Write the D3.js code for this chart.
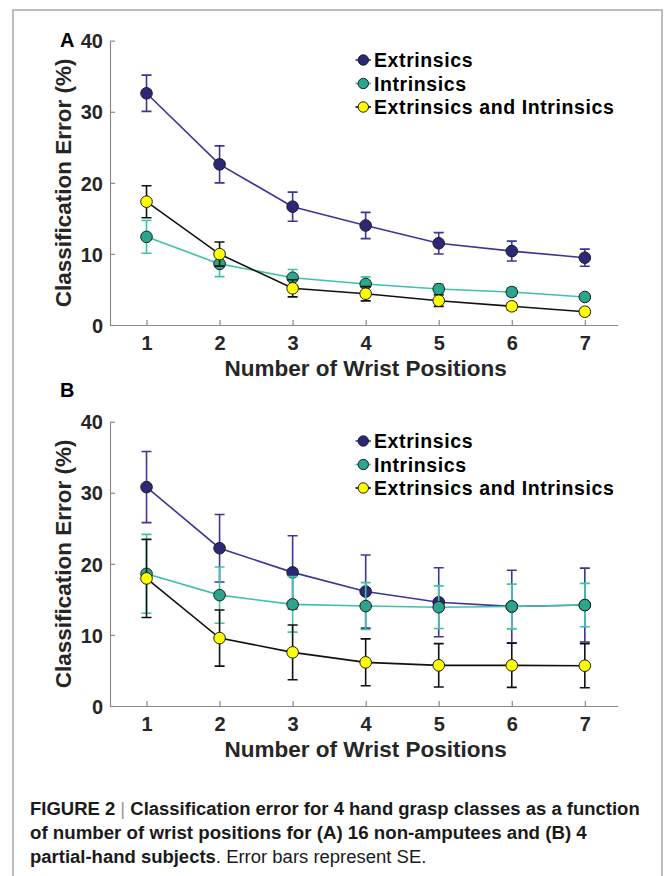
<!DOCTYPE html>
<html>
<head>
<meta charset="utf-8">
<script src="https://cdn.jsdelivr.net/npm/d3@7/dist/d3.min.js"></script>
<style>
  html, body { margin: 0; padding: 0; background: #fff; }
  svg { display: block; }
</style>
</head>
<body>
<svg id="fig" width="665" height="876"></svg>
<script>
// Number of wrist positions used for training
const positions = [1, 2, 3, 4, 5, 6, 7];
const yTicks = [0, 10, 20, 30, 40];
const seriesNames = ["Extrinsics", "Intrinsics", "Extrinsics and Intrinsics"];

// Panel A: 16 non-amputees (mean classification error %, SE)
const aExtrinsics   = [32.6, 22.6, 16.65, 14.0, 11.5, 10.4, 9.47];
const aExtrinsicsSE = [2.55, 2.6, 2.05, 1.85, 1.5, 1.4, 1.2];
const aIntrinsics   = [12.4, 8.6, 6.65, 5.77, 5.06, 4.64, 3.94];
const aIntrinsicsSE = [2.3, 1.8, 1.15, 1.0, 0.7, 0.6, 0.4];
const aCombined     = [17.35, 9.98, 5.16, 4.4, 3.42, 2.63, 1.87];
const aCombinedSE   = [2.25, 1.7, 1.2, 1.0, 0.8, 0.5, 0.45];

// Panel B: 4 partial-hand subjects
const bExtrinsics   = [30.8, 22.2, 18.8, 16.1, 14.6, 14.0, 14.2];
const bExtrinsicsSE = [5.0, 4.75, 5.15, 5.15, 4.85, 5.1, 5.2];
const bIntrinsics   = [18.6, 15.6, 14.3, 14.06, 13.9, 14.0, 14.2];
const bIntrinsicsSE = [5.55, 3.95, 3.9, 3.3, 3.0, 3.15, 3.05];
const bCombined     = [17.95, 9.56, 7.55, 6.14, 5.72, 5.72, 5.67];
const bCombinedSE   = [5.5, 3.95, 3.85, 3.3, 3.05, 3.1, 3.1];

const styles = [
  { line: "#3b3698", fill: "#2c2877" },
  { line: "#3fc2a7", fill: "#2aa68e" },
  { line: "#111111", fill: "#ffff00" }
];

const svg = d3.select("#fig");
const FONT = "'Liberation Sans', Arial, Helvetica, sans-serif";

// outer frame
svg.append("rect")
  .attr("x", 13).attr("y", 10)
  .attr("width", 649).attr("height", 900)
  .attr("fill", "none").attr("stroke", "#a8a8a8").attr("stroke-width", 1.5);

const x = d3.scaleLinear().domain([0.5, 7.45]).range([110, 617.7]);

function drawPanel(cfg) {
  const y = d3.scaleLinear().domain([0, 40]).range([cfg.bottom, cfg.bottom - 284.3]);
  const g = svg.append("g");

  // axes
  const xAxis = d3.axisBottom(x).tickValues(positions).tickFormat(d3.format("d"))
    .tickSizeInner(-5).tickSizeOuter(0).tickPadding(11);
  const yAxis = d3.axisLeft(y).tickValues(yTicks).tickFormat(d3.format("d"))
    .tickSizeInner(-5).tickSizeOuter(0).tickPadding(7);

  const gx = g.append("g").attr("transform", `translate(0,${cfg.bottom})`).call(xAxis);
  const gy = g.append("g").attr("transform", `translate(110,0)`).call(yAxis);
  [gx, gy].forEach(a => {
    a.select(".domain").attr("stroke", "#8a8a8a").attr("stroke-width", 1.2);
    a.selectAll(".tick line").attr("stroke", "#8a8a8a").attr("stroke-width", 1.2);
    a.selectAll(".tick text")
      .attr("fill", "#262626")
      .style("font-family", FONT).style("font-weight", "bold").style("font-size", "20px");
  });
  gy.selectAll(".tick text").attr("dy", "0.36em");

  // axis titles
  g.append("text")
    .attr("x", x(4)).attr("y", cfg.bottom + 51)
    .attr("text-anchor", "middle")
    .attr("fill", "#262626")
    .style("font-family", FONT).style("font-weight", "bold").style("font-size", "22.5px")
    .text("Number of Wrist Positions");

  g.append("text")
    .attr("transform", `translate(71,${(y(0) + y(40)) / 2}) rotate(-90)`)
    .attr("text-anchor", "middle")
    .attr("fill", "#262626")
    .style("font-family", FONT).style("font-weight", "bold").style("font-size", "22.5px")
    .text("Classification Error (%)");

  // panel letter
  g.append("text")
    .attr("x", 60).attr("y", cfg.letterY)
    .attr("fill", "#000")
    .style("font-family", FONT).style("font-weight", "bold").style("font-size", "20px")
    .text(cfg.letter);

  const line = d3.line().x((d, i) => x(positions[i])).y(d => y(d));

  cfg.series.forEach((s, k) => {
    const st = styles[k];
    const sg = g.append("g");
    // error bars
    positions.forEach((p, i) => {
      const lo = y(s.mean[i] - s.se[i]), hi = y(s.mean[i] + s.se[i]), cx = x(p);
      sg.append("path")
        .attr("d", `M${cx},${lo}V${hi}M${cx - 5},${lo}H${cx + 5}M${cx - 5},${hi}H${cx + 5}`)
        .attr("fill", "none").attr("stroke", st.line).attr("stroke-width", 1.6);
    });
    sg.append("path")
      .attr("d", line(s.mean))
      .attr("fill", "none").attr("stroke", st.line).attr("stroke-width", 1.6);
    sg.selectAll("circle").data(s.mean).join("circle")
      .attr("cx", (d, i) => x(positions[i])).attr("cy", d => y(d))
      .attr("r", 5.8)
      .attr("fill", st.fill).attr("stroke", "#1c1c1c").attr("stroke-width", 1);
  });

  // legend
  const legendTop = cfg.bottom - 265;
  seriesNames.forEach((name, k) => {
    const st = styles[k];
    const ly = legendTop + k * 23.5;
    g.append("line")
      .attr("x1", 355.5).attr("x2", 371).attr("y1", ly).attr("y2", ly)
      .attr("stroke", st.line).attr("stroke-width", 1.6);
    g.append("circle")
      .attr("cx", 363.3).attr("cy", ly).attr("r", 5.2)
      .attr("fill", st.fill).attr("stroke", "#1c1c1c").attr("stroke-width", 1);
    g.append("text")
      .attr("x", 374).attr("y", ly + 7)
      .attr("fill", "#000")
      .style("font-family", FONT).style("font-weight", "bold").style("font-size", "19.5px")
      .style("letter-spacing", "0.6px")
      .text(name);
  });
}

drawPanel({
  bottom: 325, letter: "A", letterY: 47,
  series: [
    { mean: aExtrinsics, se: aExtrinsicsSE },
    { mean: aIntrinsics, se: aIntrinsicsSE },
    { mean: aCombined, se: aCombinedSE }
  ]
});

drawPanel({
  bottom: 706, letter: "B", letterY: 397,
  series: [
    { mean: bExtrinsics, se: bExtrinsicsSE },
    { mean: bIntrinsics, se: bIntrinsicsSE },
    { mean: bCombined, se: bCombinedSE }
  ]
});

// figure caption, set in a condensed face (horizontal squeeze per line)
const CAP = "'Liberation Sans Narrow', 'Arial Narrow', 'Liberation Sans', Arial, sans-serif";
const cap = svg.append("g")
  .style("font-family", CAP).style("font-size", "18.5px").attr("fill", "#1a1a1a");

const g1 = cap.append("g"), g2 = cap.append("g"), g3 = cap.append("g");

const l1 = g1.append("text").attr("x", 0).attr("y", 815);
l1.append("tspan").style("font-weight", "bold").text("FIGURE 2 ");
l1.append("tspan").attr("fill", "#999").style("font-weight", "normal").text("|");
l1.append("tspan").style("font-weight", "bold").text(" Classification error for 4 hand grasp classes as a function");

const l2 = g2.append("text").attr("x", 0).attr("y", 839)
  .style("font-weight", "bold")
  .text("of number of wrist positions for (A) 16 non-amputees and (B) 4");

const l3 = g3.append("text").attr("x", 0).attr("y", 863);
l3.append("tspan").style("font-weight", "bold").text("partial-hand subjects");
l3.append("tspan").style("font-weight", "normal").text(". Error bars represent SE.");

const s1 = 610 / l1.node().getComputedTextLength();
const s2 = 557 / l2.node().getComputedTextLength();
g1.attr("transform", `translate(30,0) scale(${s1},1)`);
g2.attr("transform", `translate(30,0) scale(${s2},1)`);
g3.attr("transform", `translate(30,0) scale(${s1},1)`);
</script>
</body>
</html>
